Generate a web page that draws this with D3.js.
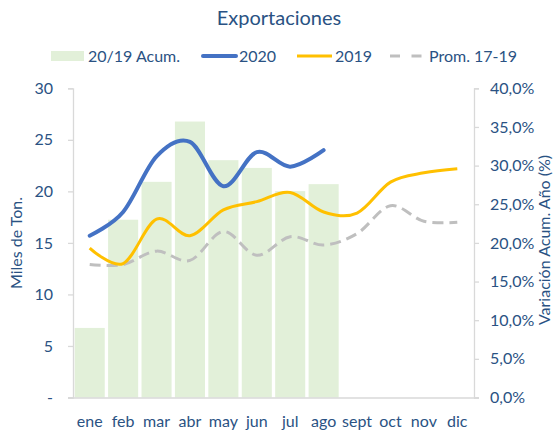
<!DOCTYPE html>
<html>
<head>
<meta charset="utf-8">
<script src="https://cdn.jsdelivr.net/npm/d3@7"></script>
<style>
  html, body { margin: 0; padding: 0; background: #fff; }
  svg { display: block; font-family: Lato, "Open Sans", sans-serif; }
</style>
</head>
<body>
<svg id="chart" width="555" height="433"></svg>
<script>
// ---- data ----
const months = ["ene","feb","mar","abr","may","jun","jul","ago","sept","oct","nov","dic"];
const acum2019 = [9.0, 23.0, 27.9, 35.7, 30.7, 29.7, 26.7, 27.6]; // % (right axis)
const exp2020 = [15.7, 18.0, 23.4, 24.8, 20.5, 23.8, 22.4, 24.0];  // miles de ton
const exp2019 = [14.5, 13.0, 17.3, 15.7, 18.2, 19.0, 19.9, 18.0, 17.9, 20.9, 21.8, 22.2];
const prom1719 = [12.9, 12.9, 14.2, 13.3, 16.1, 13.8, 15.6, 14.8, 15.9, 18.6, 17.1, 17.0];
const leftTicks = [0, 5, 10, 15, 20, 25, 30];
const rightTicks = [0, 0.05, 0.10, 0.15, 0.20, 0.25, 0.30, 0.35, 0.40];

// ---- layout ----
const textColor = "#2A5283";
const gridColor = "#D9D9D9";
const fs = 16;
const plot = { left: 73, right: 474, top: 88.3, bottom: 397.5 };

const svg = d3.select("#chart");

const x = d3.scaleBand().domain(months).range([plot.left, plot.right])
  .paddingInner(0.1).paddingOuter(0.05);
const yL = d3.scaleLinear().domain([0, 30]).range([plot.bottom, plot.top]);
const yR = d3.scaleLinear().domain([0, 0.40]).range([plot.bottom, plot.top]);
const cx = m => x(m) + x.bandwidth() / 2;

// title
svg.append("text").attr("x", 279).attr("y", 25).attr("text-anchor", "middle")
  .attr("fill", textColor).attr("font-size", 20).text("Exportaciones");

// bars
svg.append("g").selectAll("rect").data(acum2019).join("rect")
  .attr("x", (d, i) => x(months[i]))
  .attr("width", x.bandwidth())
  .attr("y", d => yR(d / 100))
  .attr("height", d => yR(0) - yR(d / 100))
  .attr("fill", "#E2F0D9");

// axes
const axL = svg.append("g").attr("transform", `translate(${plot.left},0)`)
  .call(d3.axisLeft(yL).tickValues(leftTicks).tickSize(5).tickPadding(15)
    .tickFormat(d => d === 0 ? "-" : d3.format("d")(d)));
const axR = svg.append("g").attr("transform", `translate(${plot.right},0)`)
  .call(d3.axisRight(yR).tickValues(rightTicks).tickSize(5).tickPadding(11)
    .tickFormat(d => d3.format(".1f")(d * 100).replace(".", ",") + "%"));
const axB = svg.append("g").attr("transform", `translate(0,${plot.bottom})`)
  .call(d3.axisBottom(x).tickSize(0).tickPadding(18));

[axL, axR, axB].forEach(a => {
  a.select(".domain").attr("stroke", gridColor).attr("stroke-width", 1.3);
  a.selectAll(".tick line").attr("stroke", gridColor).attr("stroke-width", 1.3);
  a.selectAll("text").attr("fill", textColor).attr("font-size", fs)
    .attr("font-family", "Lato, sans-serif");
});
axB.select(".domain").attr("d", `M${plot.left - 5},0.5H${plot.right + 5}`);

// axis titles
svg.append("text").attr("transform", "translate(22,243) rotate(-90)")
  .attr("text-anchor", "middle").attr("fill", textColor).attr("font-size", fs)
  .text("Miles de Ton.");
svg.append("text").attr("transform", "translate(550,240) rotate(-90)")
  .attr("text-anchor", "middle").attr("fill", textColor).attr("font-size", fs)
  .text("Variación Acum. Año (%)");

// lines
const line = d3.line().x((d, i) => cx(months[i])).y(d => yL(d)).curve(d3.curveCatmullRom.alpha(0));
svg.append("path").datum(prom1719).attr("d", line).attr("fill", "none")
  .attr("stroke", "#BFBFBF").attr("stroke-width", 3).attr("stroke-dasharray", "11,6");
svg.append("path").datum(exp2019).attr("d", line).attr("fill", "none")
  .attr("stroke", "#FFC000").attr("stroke-width", 3);
svg.append("path").datum(exp2020).attr("d", line).attr("fill", "none")
  .attr("stroke", "#4472C4").attr("stroke-width", 4).attr("stroke-linecap", "round");

// legend
const lg = svg.append("g");
const ly = 56;
lg.append("rect").attr("x", 51).attr("y", ly - 5).attr("width", 33).attr("height", 10).attr("fill", "#E2F0D9");
lg.append("text").attr("x", 88).attr("y", ly + 5.5).attr("fill", textColor).attr("font-size", fs).text("20/19 Acum.");
lg.append("line").attr("x1", 203).attr("x2", 236).attr("y1", ly).attr("y2", ly)
  .attr("stroke", "#4472C4").attr("stroke-width", 4).attr("stroke-linecap", "round");
lg.append("text").attr("x", 239).attr("y", ly + 5.5).attr("fill", textColor).attr("font-size", fs).text("2020");
lg.append("line").attr("x1", 297).attr("x2", 332).attr("y1", ly).attr("y2", ly)
  .attr("stroke", "#FFC000").attr("stroke-width", 3);
lg.append("text").attr("x", 335).attr("y", ly + 5.5).attr("fill", textColor).attr("font-size", fs).text("2019");
lg.append("line").attr("x1", 390).attr("x2", 422).attr("y1", ly).attr("y2", ly)
  .attr("stroke", "#BFBFBF").attr("stroke-width", 3).attr("stroke-dasharray", "10,11.5");
lg.append("text").attr("x", 429).attr("y", ly + 5.5).attr("fill", textColor).attr("font-size", fs).text("Prom. 17-19");
</script>
</body>
</html>
